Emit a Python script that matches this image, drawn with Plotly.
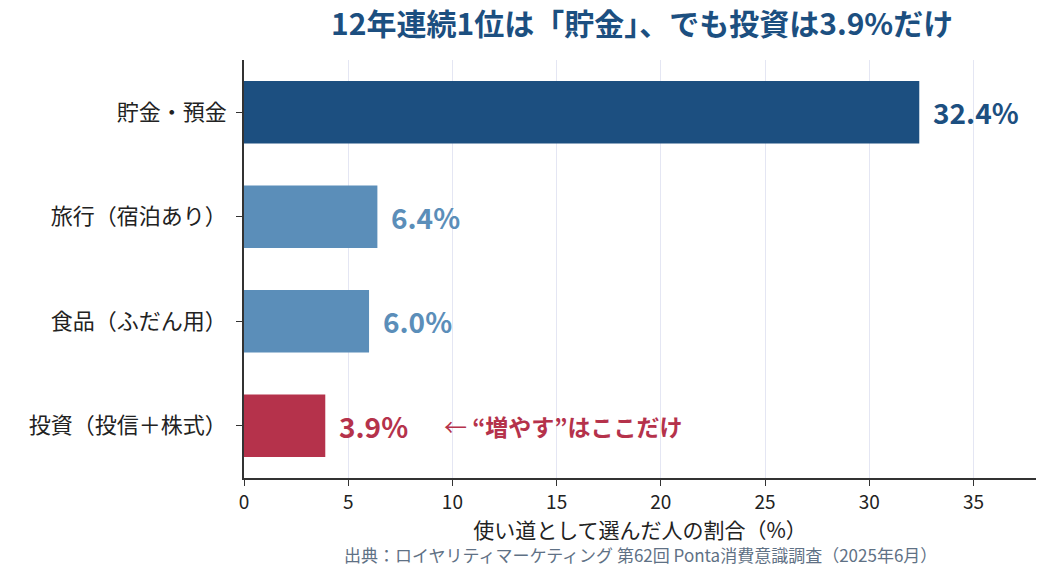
import plotly.graph_objects as go

categories = ["貯金・預金", "旅行（宿泊あり）", "食品（ふだん用）", "投資（投信＋株式）"]
values = [32.4, 6.4, 6.0, 3.9]
labels = ["32.4%", "6.4%", "6.0%", "3.9%"]
colors = ["#1c4f80", "#5b8eb9", "#5b8eb9", "#b5324b"]
x_ticks = [0, 5, 10, 15, 20, 25, 30, 35]

FONT = "Noto Sans CJK JP"

fig = go.Figure()
fig.add_trace(go.Bar(
    y=categories, x=values, orientation="h",
    marker=dict(color=colors, line=dict(width=0)),
    width=0.6, hoverinfo="skip",
))

for cat, v, lab, c in zip(categories, values, labels, colors):
    fig.add_annotation(x=v, y=cat, text=f"<b>{lab}</b>", showarrow=False,
                       xanchor="left", xshift=12,
                       font=dict(size=28, color=c, family=FONT))

fig.add_annotation(x=9.5, y=categories[3], text="← <b>“増やす”はここだけ</b>",
                   showarrow=False, xanchor="left",
                   font=dict(size=23, color="#b5324b", family=FONT))

fig.add_annotation(x=0.5, y=-0.184, xref="paper", yref="paper",
                   text="出典：ロイヤリティマーケティング 第62回 Ponta消費意識調査（2025年6月）",
                   showarrow=False, xanchor="center", yanchor="middle",
                   font=dict(size=17, color="#5f7185", family=FONT))

fig.update_layout(
    width=1051, height=580,
    margin=dict(l=244, r=15, t=60, b=102),
    plot_bgcolor="white", paper_bgcolor="white",
    font=dict(family=FONT, color="#222222"),
    showlegend=False,
    title=dict(text="<b>12年連続1位は「貯金」、でも投資は3.9%だけ</b>",
               x=0.611, xanchor="center", y=0.957, yanchor="middle",
               font=dict(size=30, color="#1c4f80", family=FONT)),
    xaxis=dict(range=[0, 38], tickvals=x_ticks, showgrid=True,
               gridcolor="#e4e6f3", gridwidth=1, zeroline=False,
               showline=True, linecolor="#333333", linewidth=2,
               ticks="outside", ticklen=6, tickcolor="#333333",
               tickfont=dict(size=19, color="#222222"),
               title=dict(text="使い道として選んだ人の割合（%）",
                          font=dict(size=21, color="#222222"), standoff=5)),
    yaxis=dict(autorange="reversed", showgrid=False, zeroline=False,
               showline=True, linecolor="#333333", linewidth=2,
               ticks="outside", ticklen=6, tickcolor="#333333",
               tickfont=dict(size=22, color="#222222"), ticksuffix=" "),
)

fig.write_html("out.html")
